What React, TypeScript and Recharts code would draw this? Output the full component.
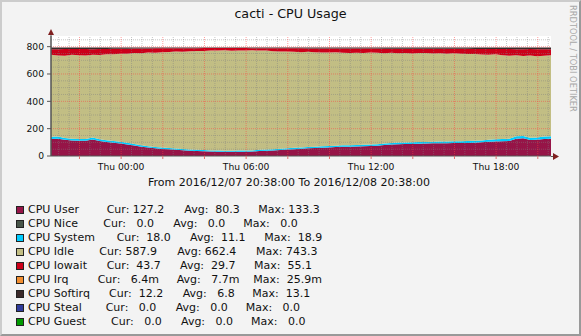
// cacti - CPU Usage (RRDtool style stacked area chart)

import React from 'react';
import { AreaChart, Area, XAxis, YAxis, CartesianGrid, ReferenceLine } from 'recharts';

// minutes since 2016/12/07 20:38, one sample every 20 minutes
const minutes = Array.from({ length: 73 }, (_, i) => i * 20);

const cpuUser = [
  125, 126, 118, 113, 112, 112, 120, 110, 102, 97,
  92, 85, 77, 68, 62, 56, 52, 49, 46, 42,
  39, 37, 35, 33, 32, 31, 31, 32, 32, 33,
  36, 38, 40, 44, 47, 50, 53, 56, 58, 61,
  63, 65, 67, 68, 70, 72, 74, 75, 80, 84,
  86, 87, 88, 90, 91, 93, 94, 94, 95, 95,
  96, 97, 100, 104, 107, 108, 110, 126, 130, 117,
  119, 124, 127,
];

const cpuSystem = [
  15, 16, 14, 14, 13, 13, 15, 13, 13, 12,
  12, 12, 11, 11, 10, 10, 10, 9, 9, 9,
  9, 8, 8, 8, 8, 8, 8, 8, 8, 8,
  9, 9, 9, 9, 9, 10, 10, 10, 10, 10,
  10, 10, 11, 11, 11, 11, 11, 11, 12, 12,
  12, 12, 12, 12, 12, 12, 13, 13, 13, 13,
  13, 14, 14, 14, 15, 16, 17, 18, 17, 17,
  17, 18, 18,
];

const cpuIdle = [
  601, 594, 602, 613, 613, 611, 605, 616, 630, 635,
  644, 651, 665, 673, 685, 690, 698, 703, 709, 712,
  719, 724, 726, 730, 732, 734, 731, 732, 731, 732,
  726, 725, 718, 711, 709, 702, 697, 696, 692, 687,
  684, 684, 677, 674, 675, 671, 672, 669, 659, 659,
  654, 654, 650, 651, 651, 645, 644, 641, 644, 641,
  637, 636, 629, 623, 622, 613, 607, 593, 584, 602,
  593, 592, 592,
];

const cpuIowait = [
  40, 45, 48, 42, 44, 46, 41, 43, 38, 40,
  36, 37, 33, 35, 30, 32, 28, 27, 25, 26,
  22, 20, 21, 19, 18, 17, 20, 18, 19, 16,
  18, 17, 22, 24, 23, 26, 28, 25, 27, 29,
  30, 28, 31, 33, 30, 32, 29, 31, 34, 30,
  33, 32, 35, 31, 30, 34, 33, 36, 32, 35,
  38, 36, 40, 42, 39, 45, 48, 44, 50, 46,
  52, 47, 44,
];

const cpuSoftirq = [
  12, 12, 11, 11, 11, 11, 12, 11, 10, 9,
  9, 8, 7, 6, 6, 5, 5, 5, 4, 4,
  4, 4, 3, 3, 3, 3, 3, 3, 3, 4,
  4, 4, 4, 5, 5, 5, 5, 6, 6, 6,
  6, 6, 7, 7, 7, 7, 7, 7, 8, 8,
  8, 8, 8, 9, 9, 9, 9, 9, 9, 9,
  9, 10, 10, 10, 10, 11, 11, 12, 12, 11,
  12, 12, 12,
];

const yTicks = [0, 200, 400, 600, 800];
// x ticks every 2 hours (22:00 is minute 82), labels every 6 hours
const xTickLabels: Record<number, string> = {
  202: 'Thu 00:00',
  562: 'Thu 06:00',
  922: 'Thu 12:00',
  1282: 'Thu 18:00',
};

const legendNames = ['CPU User', 'CPU Nice', 'CPU System', 'CPU Idle', 'CPU Iowait', 'CPU Irq', 'CPU Softirq', 'CPU Steal', 'CPU Guest'];
const legendCur = ['127.2', '0.0', '18.0', '587.9', '43.7', '6.4m', '12.2', '0.0', '0.0'];
const legendAvg = ['80.3', '0.0', '11.1', '662.4', '29.7', '7.7m', '6.8', '0.0', '0.0'];
const legendMax = ['133.3', '0.0', '18.9', '743.3', '55.1', '25.9m', '13.1', '0.0', '0.0'];
const legendColors = ['#961447', '#475448', '#00CCFF', '#C2BE84', '#CC0019', '#F28E30', '#3B2A2A', '#303C9C', '#009A00'];

// x offsets of "Cur:", "Avg:", "Max:" for every legend row
const LEGEND_X = [
  [106.7, 184.3, 258.3],
  [103.3, 173.3, 243.3],
  [116.7, 190, 264.3],
  [99.3, 177.3, 256],
  [106.7, 180, 254],
  [97.7, 176.7, 253.3],
  [109, 182.7, 252.3],
  [105.7, 175.7, 245.7],
  [111, 181, 251],
];

const FONT = '"DejaVu Sans", sans-serif';

const majorV = Array.from({ length: 12 }, (_, i) => 82 + i * 120);
const minorV = Array.from({ length: 48 }, (_, i) => 22 + i * 30).filter(v => v <= 1440 && !majorV.includes(v));
const minorH = Array.from({ length: 17 }, (_, i) => 50 + i * 50).filter(v => v % 200 !== 0);
const majorH = [200, 400, 600, 800];

// rrdtool style "%6.1lf%s"
const fmt = (v: string) => {
  const m = v.endsWith('m');
  const num = m ? v.slice(0, -1) : v;
  return num.padStart(6, ' ') + (m ? 'm' : '');
};

export default function App() {
  const data = minutes.map((t, i) => ({
    t,
    user: cpuUser[i],
    system: cpuSystem[i],
    idle: cpuIdle[i],
    iowait: cpuIowait[i],
    softirq: cpuSoftirq[i],
  }));

  const txt = (s: string, left: number, top: number, size: number, extra: React.CSSProperties = {}) => (
    <div style={{ position: 'absolute', left, top, fontSize: size, lineHeight: `${size + 3}px`, whiteSpace: 'pre', color: '#111', ...extra }}>{s}</div>
  );

  return (
    <div
      style={{
        position: 'relative',
        width: 581,
        height: 336,
        boxSizing: 'border-box',
        background: '#F3F3F3',
        borderTop: '2px solid #CCCCCC',
        borderLeft: '2px solid #CCCCCC',
        borderRight: '2px solid #999999',
        borderBottom: '2px solid #999999',
        fontFamily: FONT,
        overflow: 'hidden',
      }}
    >
      <style>{'body{margin:0}'}</style>
      <div style={{ position: 'absolute', left: -2, top: -2, width: 581, height: 336 }}>
        <div style={{ position: 'absolute', left: 0, width: 581, top: 6, textAlign: 'center', fontSize: 12.7, color: '#111' }}>
          cacti - CPU Usage
        </div>

        <div style={{ position: 'absolute', left: 0, top: 0 }}>
          <AreaChart width={581} height={176} data={data} margin={{ top: 36, right: 30, left: 21, bottom: 0 }}>
            <CartesianGrid fill="#FFFFFF" horizontal={false} vertical={false} />
            <XAxis
              type="number"
              dataKey="t"
              domain={[0, 1440]}
              ticks={majorV}
              interval={0}
              tickFormatter={(v: number) => xTickLabels[v] ?? ''}
              height={20}
              tickSize={3}
              tickMargin={4}
              axisLine={{ stroke: '#555555' }}
              tickLine={{ stroke: '#E07070' }}
              tick={{ fontSize: 9.2, fill: '#111', fontFamily: FONT }}
            />
            <YAxis
              type="number"
              domain={[0, 878]}
              allowDataOverflow
              ticks={yTicks}
              interval={0}
              width={30}
              tickSize={4}
              tickMargin={3}
              axisLine={{ stroke: '#555555' }}
              tickLine={{ stroke: '#555555' }}
              tick={{ fontSize: 9.2, fill: '#111', fontFamily: FONT }}
            />
            <Area type="linear" dataKey="user" stackId="cpu" stroke="none" fill={legendColors[0]} fillOpacity={1} isAnimationActive={false} />
            <Area type="linear" dataKey="system" stackId="cpu" stroke="none" fill={legendColors[2]} fillOpacity={1} isAnimationActive={false} />
            <Area type="linear" dataKey="idle" stackId="cpu" stroke="none" fill={legendColors[3]} fillOpacity={1} isAnimationActive={false} />
            <Area type="linear" dataKey="iowait" stackId="cpu" stroke="none" fill={legendColors[4]} fillOpacity={1} isAnimationActive={false} />
            <Area type="linear" dataKey="softirq" stackId="cpu" stroke="none" fill={legendColors[6]} fillOpacity={1} isAnimationActive={false} />
            {minorV.map(v => (
              <ReferenceLine key={`mv${v}`} x={v} stroke="#808080" strokeOpacity={0.45} strokeDasharray="1 1" />
            ))}
            {minorH.map(v => (
              <ReferenceLine key={`mh${v}`} y={v} stroke="#808080" strokeOpacity={0.45} strokeDasharray="1 1" />
            ))}
            {majorV.map(v => (
              <ReferenceLine key={`MV${v}`} x={v} stroke="#FF4040" strokeOpacity={0.5} strokeDasharray="1 1" />
            ))}
            {majorH.map(v => (
              <ReferenceLine key={`MH${v}`} y={v} stroke="#FF4040" strokeOpacity={0.5} strokeDasharray="1 1" />
            ))}
          </AreaChart>
        </div>

        {/* axis arrows */}
        <svg width={581} height={176} style={{ position: 'absolute', left: 0, top: 0, pointerEvents: 'none' }}>
          <line x1={51} y1={156} x2={51} y2={33} stroke="#555555" />
          <polygon points="48,35 54,35 51,29" fill="#7F1F1F" />
          <line x1={551} y1={156.5} x2={555} y2={156.5} stroke="#555555" />
          <polygon points="553,153 553,160 559,156.5" fill="#7F1F1F" />
        </svg>

        {txt('From 2016/12/07 20:38:00 To 2016/12/08 20:38:00', 148, 176, 11)}

        {legendNames.map((name, i) => {
          const cy = 210 + i * 14;
          const xs = LEGEND_X[i];
          return (
            <React.Fragment key={name}>
              <div
                style={{
                  position: 'absolute',
                  left: 16,
                  top: cy - 4,
                  width: 6,
                  height: 6,
                  background: legendColors[i],
                  border: '1px solid #222',
                }}
              />
              {txt(name, 28, cy - 7, 11)}
              {txt('Cur:' + fmt(legendCur[i]), xs[0], cy - 7, 11)}
              {txt('Avg:' + fmt(legendAvg[i]), xs[1], cy - 7, 11)}
              {txt('Max:' + fmt(legendMax[i]), xs[2], cy - 7, 11)}
            </React.Fragment>
          );
        })}

        <div
          style={{
            position: 'absolute',
            left: 567,
            top: 5,
            writingMode: 'vertical-rl',
            fontSize: 8.3,
            lineHeight: '11px',
            color: '#A8A8A8',
            whiteSpace: 'pre',
          }}
        >
          RRDTOOL / TOBI OETIKER
        </div>
      </div>
    </div>
  );
}
